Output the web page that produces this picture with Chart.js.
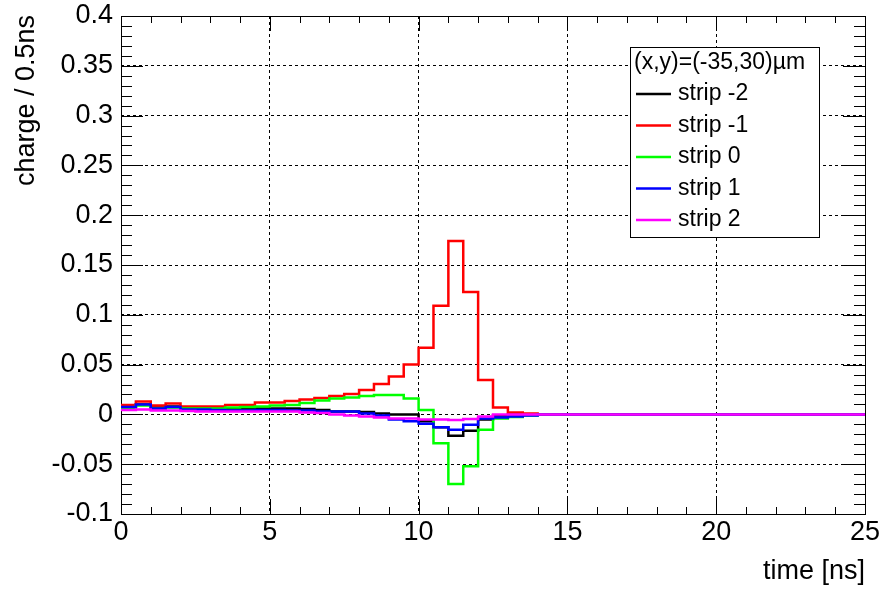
<!DOCTYPE html>
<html>
<head>
<meta charset="utf-8">
<script src="https://cdn.jsdelivr.net/npm/chart.js@4"></script>
<style>
  html, body { margin: 0; padding: 0; background: #fff; }
  #wrap { width: 883px; height: 592px; }
</style>
</head>
<body>
<div id="wrap"><canvas id="chart" width="883" height="592"></canvas></div>
<script>
// histogram bins: 0.5 ns wide, 0 .. 25 ns
const binWidth = 0.5;
const nBins = 50;

const stripM2 = [0.008, 0.010, 0.007, 0.008, 0.006, 0.006, 0.006, 0.006, 0.006, 0.006,
                 0.006, 0.006, 0.0055, 0.0045, 0.003, 0.003, 0.0025, 0.001, 0.0, 0.0,
                 -0.007, -0.013, -0.0215, -0.0165, -0.005, -0.001, 0, 0, 0, 0,
                 0, 0, 0, 0, 0, 0, 0, 0, 0, 0, 0, 0, 0, 0, 0, 0, 0, 0, 0, 0];
const stripM1 = [0.0095, 0.013, 0.009, 0.011, 0.008, 0.008, 0.008, 0.0095, 0.0095, 0.012,
                 0.012, 0.0135, 0.015, 0.0165, 0.0185, 0.0205, 0.0245, 0.0305, 0.038, 0.050,
                 0.067, 0.109, 0.174, 0.123, 0.0345, 0.007, 0.002, 0.001, 0, 0,
                 0, 0, 0, 0, 0, 0, 0, 0, 0, 0, 0, 0, 0, 0, 0, 0, 0, 0, 0, 0];
const strip0 = [0.006, 0.009, 0.006, 0.007, 0.006, 0.006, 0.006, 0.007, 0.0075, 0.008,
                0.009, 0.0095, 0.0115, 0.014, 0.016, 0.017, 0.0185, 0.0195, 0.0195, 0.016,
                0.0045, -0.029, -0.070, -0.052, -0.0155, -0.004, -0.0025, -0.001, 0, 0,
                0, 0, 0, 0, 0, 0, 0, 0, 0, 0, 0, 0, 0, 0, 0, 0, 0, 0, 0, 0];
const strip1 = [0.0075, 0.010, 0.006, 0.0075, 0.005, 0.005, 0.0045, 0.004, 0.004, 0.0045,
                0.0045, 0.004, 0.004, 0.003, 0.003, 0.003, 0.001, -0.001, -0.005, -0.007,
                -0.0095, -0.013, -0.0155, -0.0105, -0.004, -0.003, -0.002, -0.001, 0, 0,
                0, 0, 0, 0, 0, 0, 0, 0, 0, 0, 0, 0, 0, 0, 0, 0, 0, 0, 0, 0];
const strip2 = [0.0045, 0.005, 0.004, 0.004, 0.0035, 0.003, 0.003, 0.003, 0.003, 0.003,
                0.003, 0.003, 0.002, 0.0015, 0.0, -0.001, -0.002, -0.003, -0.004, -0.004,
                -0.005, -0.005, -0.0055, -0.0045, -0.002, 0, 0, 0, 0, 0,
                0, 0, 0, 0, 0, 0, 0, 0, 0, 0, 0, 0, 0, 0, 0, 0, 0, 0, 0, 0];

const seriesNames = ['strip -2', 'strip -1', 'strip 0', 'strip 1', 'strip 2'];
const seriesColors = ['#000000', '#ff0000', '#00ff00', '#0000ff', '#ff00ff'];
const legendHeader = '(x,y)=(-35,30)\u00b5m';
const xTitle = 'time [ns]';
const yTitle = 'charge / 0.5ns';

// points at the left bin edges, plus the closing edge at 25 ns
function toSteps(vals) {
  const pts = vals.map((v, i) => ({ x: i * binWidth, y: v }));
  pts.push({ x: nBins * binWidth, y: vals[vals.length - 1] });
  return pts;
}

const allSeries = [stripM2, stripM1, strip0, strip1, strip2];
const datasets = allSeries.map((vals, i) => ({
  label: seriesNames[i],
  data: toSteps(vals),
  borderColor: seriesColors[i],
  borderWidth: 2.5,
  pointRadius: 0,
  stepped: 'before',
  fill: false,
  order: allSeries.length - i
}));

const FONT = '"Liberation Sans", Arial, sans-serif';

// frame and inside ticks go under the histograms, like ROOT
const rootFrame = {
  id: 'rootFrame',
  beforeDatasetsDraw(chart) {
    const ctx = chart.ctx;
    const a = chart.chartArea;
    const xs = chart.scales.x, ys = chart.scales.y;
    ctx.save();
    ctx.strokeStyle = '#000';
    ctx.lineWidth = 1;
    ctx.beginPath();
    for (let t = 0; t <= 25; t += 1) {
      const px = Math.round(xs.getPixelForValue(t)) + 0.5;
      const len = (t % 5 === 0) ? 15 : 7;
      ctx.moveTo(px, a.bottom); ctx.lineTo(px, a.bottom - len);
      ctx.moveTo(px, a.top); ctx.lineTo(px, a.top + len);
    }
    for (let k = -10; k <= 40; k++) {
      const py = Math.round(ys.getPixelForValue(k / 100)) + 0.5;
      const len = (k % 5 === 0) ? 22 : 11;
      ctx.moveTo(a.left, py); ctx.lineTo(a.left + len, py);
      ctx.moveTo(a.right, py); ctx.lineTo(a.right - len, py);
    }
    ctx.stroke();
    ctx.strokeRect(Math.round(a.left) + 0.5, Math.round(a.top) + 0.5,
                   Math.round(a.right - a.left), Math.round(a.bottom - a.top));
    ctx.restore();
  }
};

// axis titles and the legend box
const rootDecor = {
  id: 'rootDecor',
  afterDraw(chart) {
    const ctx = chart.ctx;
    const a = chart.chartArea;
    ctx.save();
    ctx.fillStyle = '#000';
    ctx.font = '27px ' + FONT;
    ctx.textAlign = 'right';
    ctx.textBaseline = 'middle';
    ctx.fillText(xTitle, a.right, 572);
    ctx.save();
    ctx.translate(27, a.top - 1);
    ctx.rotate(-Math.PI / 2);
    ctx.fillText(yTitle, 0, 0);
    ctx.restore();

    const lx = 630, ly = 47, lw = 189, lh = 190;
    ctx.fillStyle = '#fff';
    ctx.fillRect(lx, ly, lw, lh);
    ctx.strokeStyle = '#000';
    ctx.lineWidth = 1;
    ctx.strokeRect(lx + 0.5, ly + 0.5, lw, lh);
    ctx.fillStyle = '#000';
    ctx.textAlign = 'left';
    ctx.font = '23px ' + FONT;
    ctx.fillText(legendHeader, lx + 4, ly + 16);
    seriesNames.forEach((name, i) => {
      const cy = ly + 47 + i * 31.5;
      ctx.strokeStyle = seriesColors[i];
      ctx.lineWidth = 2.5;
      ctx.beginPath();
      ctx.moveTo(lx + 6, cy); ctx.lineTo(lx + 41, cy);
      ctx.stroke();
      ctx.fillStyle = '#000';
      ctx.fillText(name, lx + 48, cy);
    });
    ctx.restore();
  }
};

new Chart(document.getElementById('chart'), {
  type: 'line',
  data: { datasets },
  options: {
    responsive: false,
    animation: false,
    layout: { padding: { top: 16, right: 18, left: 0, bottom: 0 } },
    plugins: { legend: { display: false }, tooltip: { enabled: false } },
    scales: {
      x: {
        type: 'linear',
        min: 0, max: 25,
        afterFit(scale) {
          scale.height = 78;
          scale.paddingLeft = 0;
          scale.paddingRight = 0;
        },
        ticks: {
          stepSize: 5,
          color: '#000',
          font: { size: 27, family: FONT },
          padding: 2,
          maxRotation: 0,
          autoSkip: false
        },
        grid: { color: '#000', lineWidth: 1, drawTicks: false },
        border: { display: false, dash: [3, 3] }
      },
      y: {
        min: -0.1, max: 0.4,
        afterFit(scale) {
          scale.width = 121;
          scale.paddingTop = 0;
          scale.paddingBottom = 0;
        },
        ticks: {
          stepSize: 0.05,
          color: '#000',
          font: { size: 27, family: FONT },
          padding: 8,
          callback: v => String(Number(v.toFixed(2)))
        },
        grid: { color: '#000', lineWidth: 1, drawTicks: false },
        border: { display: false, dash: [3, 3] }
      }
    }
  },
  plugins: [rootFrame, rootDecor]
});
</script>
</body>
</html>
